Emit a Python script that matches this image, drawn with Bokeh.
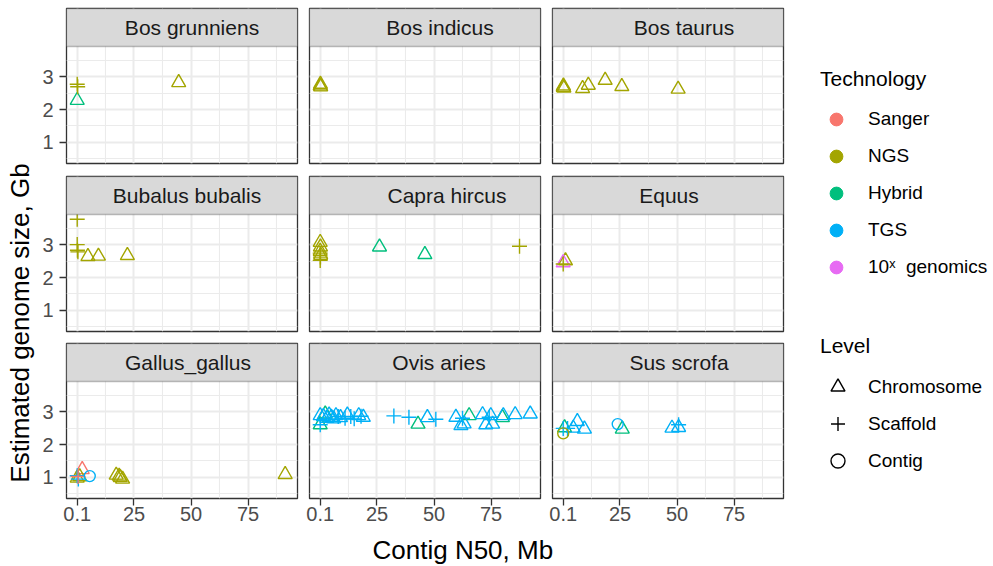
import numpy as np
from bokeh.plotting import figure
from bokeh.models import (ColumnDataSource, FixedTicker, Grid, BoxAnnotation, Label,
                          Legend, LegendItem)
from bokeh.layouts import row, column
from bokeh.transform import factor_cmap
from bokeh.embed import file_html
from bokeh.resources import INLINE

# ---------------- data ----------------
SPECIES = ["Bos grunniens", "Bos indicus", "Bos taurus",
           "Bubalus bubalis", "Capra hircus", "Equus",
           "Gallus_gallus", "Ovis aries", "Sus scrofa"]
TECHS = ["Sanger", "NGS", "Hybrid", "TGS", "10x"]
TECH_LABELS = ["Sanger", "NGS", "Hybrid", "TGS", "10\u02e3  genomics"]
TECH_COLORS = ["#F8766D", "#A3A500", "#00BF7D", "#00B0F6", "#E76BF3"]
LEVELS = ["Chromosome", "Scaffold", "Contig"]

X_TICKS = [0.1, 25, 50, 75]
X_TICK_LABELS = ["0.1", "25", "50", "75"]
X_MINOR = [12.55, 37.5, 62.5, 87.5]
Y_TICKS = [1, 2, 3]
Y_MINOR = [0.5, 1.5, 2.5, 3.5]
X_TITLE = "Contig N50, Mb"
Y_TITLE = "Estimated genome size, Gb"

# one entry per assembly: species, contig N50 (Mb), genome size (Gb), technology, level
SP = (["Bos grunniens"] * 4 + ["Bos indicus"] * 3 + ["Bos taurus"] * 8 +
      ["Bubalus bubalis"] * 7 + ["Capra hircus"] * 10 + ["Equus"] * 3 +
      ["Gallus_gallus"] * 12 + ["Ovis aries"] * 38 + ["Sus scrofa"] * 12)
N50 = [0.1, 0.3, 0.1, 44.6,
       0.1, 0.2, 0.3,
       0.1, 0.2, 0.4, 8.6, 11.1, 18.5, 25.8, 50.5,
       0.1, 0.1, 0.2, 0.4, 4.8, 9.4, 22.1,
       0.1, 0.2, 0.1, 0.3, 0.1, 0.2, 0.1, 26.1, 46.0, 87.5,
       1.1, 0.1, 0.1,
       2.3, 0.1, 0.6, 5.6, 0.1, 1.2, 0.5, 17.2, 18.5, 20.0, 19.0, 91.3,
       0.1, 2.3, 43.0, 65.4, 80.0,
       0.1, 8.0, 11.0, 13.5, 15.0, 18.0, 32.4, 39.0, 50.8, 62.5, 74.2,
       0.1, 1.5, 3.0, 4.0, 5.0, 6.0, 7.0, 9.0, 12.0, 17.0, 19.0, 47.1,
       59.6, 61.8, 63.2, 71.3, 72.7, 74.9, 75.7, 80.4, 85.6, 92.2,
       0.1, 0.1, 2.0, 0.7, 4.5, 6.3, 9.4, 47.8, 50.7, 24.0, 26.0, 50.7]
GSIZE = [2.77, 2.69, 2.28, 2.82,
         2.72, 2.77, 2.69,
         2.68, 2.72, 2.65, 2.64, 2.74, 2.89, 2.70, 2.62,
         3.77, 3.00, 2.83, 2.78, 2.64, 2.65, 2.67,
         3.07, 2.93, 2.80, 2.68, 2.74, 2.62, 2.52, 2.93, 2.70, 2.95,
         2.51, 2.45, 2.41,
         1.24, 1.05, 0.95, 1.04, 0.98, 1.02, 1.03, 1.07, 1.04, 0.95, 1.00, 1.09,
         2.60, 2.93, 2.62, 2.88, 2.82,
         2.60, 2.85, 2.80, 2.85, 2.78, 2.86, 2.87, 2.83, 2.77, 2.80, 2.83,
         2.88, 2.85, 2.80, 2.90, 2.83, 2.78, 2.88, 2.82, 2.90, 2.88, 2.83, 2.82,
         2.83, 2.58, 2.63, 2.91, 2.60, 2.88, 2.62, 2.88, 2.91, 2.93,
         2.34, 2.49, 2.49, 2.51, 2.50, 2.70, 2.47, 2.50, 2.52, 2.62, 2.47, 2.60]
TECH = (["NGS", "NGS", "Hybrid", "NGS"] +
        ["NGS"] * 3 +
        ["NGS"] * 8 +
        ["NGS"] * 7 +
        ["NGS"] * 7 + ["Hybrid", "Hybrid", "NGS"] +
        ["NGS", "10x", "NGS"] +
        ["Sanger", "TGS", "TGS", "TGS", "NGS", "NGS", "Sanger", "NGS", "NGS", "NGS", "NGS", "NGS"] +
        ["Hybrid"] * 5 + ["TGS"] * 11 + ["TGS"] * 22 +
        ["NGS", "TGS", "TGS", "Hybrid", "TGS", "TGS", "TGS", "TGS", "TGS", "TGS", "Hybrid", "TGS"])
LEVEL = (["Scaffold", "Scaffold", "Chromosome", "Chromosome"] +
         ["Chromosome"] * 3 +
         ["Chromosome"] * 8 +
         ["Scaffold"] * 4 + ["Chromosome"] * 3 +
         ["Chromosome"] * 4 + ["Scaffold"] * 3 + ["Chromosome", "Chromosome", "Scaffold"] +
         ["Chromosome", "Chromosome", "Scaffold"] +
         ["Chromosome", "Scaffold", "Scaffold", "Contig", "Chromosome", "Chromosome", "Scaffold",
          "Chromosome", "Chromosome", "Chromosome", "Chromosome", "Chromosome"] +
         ["Chromosome"] * 5 + ["Scaffold"] * 11 + ["Chromosome"] * 22 +
         ["Contig", "Scaffold", "Scaffold", "Chromosome", "Chromosome", "Chromosome", "Chromosome",
          "Chromosome", "Chromosome", "Contig", "Chromosome", "Scaffold"])

# ---------------- styling / layout ----------------
FONT = "Liberation Sans"
DARK = "#333333"
X_LO, X_HI = -4.6, 96.7
Y_LO, Y_HI = 0.36, 3.915
STRIP_PX, PANEL_PX, FRAME_W = 38, 117, 231
Y_TOP = Y_HI + (Y_HI - Y_LO) * STRIP_PX / PANEL_PX
STRIP_SHIFT = [10, 15, 16, 5, 22, 1, 6, 14, 11]
MARKER = {"Chromosome": ("triangle", 14), "Scaffold": ("cross", 15), "Contig": ("circle", 11)}
PAGE_H = 566
YT_W = 36             # width of the y-title strip
GRID_W = 753          # width of the 3x3 panel block
LEG_W = 993 - YT_W - GRID_W
ROW_TOP = [8, 7, 6]
ROW_BOTTOM = [6, 6, 33]
XT_H = PAGE_H - (8 + 155 + 6 + 7 + 155 + 6 + 6 + 155 + 33)


def bare(f):
    f.center = [m for m in f.center if not isinstance(m, Grid)]
    f.outline_line_color = None
    return f


def style_axis(ax, standoff):
    ax.axis_line_color = None
    ax.major_tick_line_color = DARK
    ax.major_tick_line_width = 1.3
    ax.major_tick_out = 7
    ax.major_tick_in = 0
    ax.minor_tick_line_color = None
    ax.major_label_text_font = FONT
    ax.major_label_text_font_size = "20px"
    ax.major_label_text_color = "#4D4D4D"
    ax.major_label_standoff = standoff


figs = []
for i, name in enumerate(SPECIES):
    r, c = divmod(i, 3)
    left, bottom = c == 0, r == 2
    p = figure(frame_width=FRAME_W, frame_height=STRIP_PX + PANEL_PX,
               x_range=(X_LO, X_HI), y_range=(Y_LO, Y_TOP),
               x_axis_location="below" if bottom else None,
               y_axis_location="left" if left else None,
               toolbar_location=None, output_backend="svg",
               min_border_left=30 if left else 6, min_border_right=6,
               min_border_top=ROW_TOP[r], min_border_bottom=ROW_BOTTOM[r],
               background_fill_color="white", border_fill_color="white")
    p.center = [m for m in p.center if not isinstance(m, Grid)]
    p.outline_line_color = DARK
    p.outline_line_width = 1.3
    p.add_layout(Grid(dimension=0, ticker=FixedTicker(ticks=X_TICKS, minor_ticks=X_MINOR),
                      grid_line_color="#EBEBEB", grid_line_width=2,
                      minor_grid_line_color="#EBEBEB", minor_grid_line_width=1.1), "center")
    p.add_layout(Grid(dimension=1, ticker=FixedTicker(ticks=Y_TICKS, minor_ticks=Y_MINOR),
                      grid_line_color="#EBEBEB", grid_line_width=2,
                      minor_grid_line_color="#EBEBEB", minor_grid_line_width=1.1), "center")

    for lvl in LEVELS:
        idx = [k for k in range(len(SP)) if SP[k] == name and LEVEL[k] == lvl]
        if not idx:
            continue
        src = ColumnDataSource(dict(x=[N50[k] for k in idx], y=[GSIZE[k] for k in idx],
                                    tech=[TECH[k] for k in idx]))
        mk, sz = MARKER[lvl]
        p.scatter("x", "y", source=src, marker=mk, size=sz, fill_color=None,
                  line_color=factor_cmap("tech", TECH_COLORS, TECHS), line_width=1.4)

    p.add_layout(BoxAnnotation(bottom=Y_HI, fill_color="#D9D9D9", fill_alpha=1.0,
                               line_color=DARK, line_width=1.3))
    p.add_layout(Label(x=(X_LO + X_HI) / 2, y=(Y_HI + Y_TOP) / 2, text=name,
                       text_align="center", text_baseline="middle", x_offset=STRIP_SHIFT[i],
                       text_font=FONT, text_font_size="21px", text_color="#1A1A1A"))

    if left:
        ax = p.yaxis[0]
        ax.ticker = FixedTicker(ticks=Y_TICKS)
        style_axis(ax, 6)
    if bottom:
        ax = p.xaxis[0]
        ax.ticker = FixedTicker(ticks=X_TICKS)
        ax.major_label_overrides = dict(zip(X_TICKS, X_TICK_LABELS))
        style_axis(ax, 1)
    figs.append(p)

# x-axis title strip (pixel coordinates)
xt = bare(figure(frame_width=GRID_W, frame_height=XT_H, x_range=(0, GRID_W), y_range=(0, XT_H),
                 x_axis_location=None, y_axis_location=None, toolbar_location=None,
                 output_backend="svg", min_border=0))
xt.add_layout(Label(x=372 - YT_W, y=17, text=X_TITLE, text_align="left",
                    text_baseline="alphabetic", text_font=FONT, text_font_size="26px",
                    text_color="black"))

# y-axis title: an empty axis whose label is centred on a frame spanning all panel rows
yt = bare(figure(frame_width=1, frame_height=511, x_range=(0, 1), y_range=(0, 1),
                 x_axis_location=None, y_axis_location="left", toolbar_location=None,
                 output_backend="svg", min_border_left=YT_W - 2, min_border_right=1,
                 min_border_top=0, min_border_bottom=PAGE_H - 511))
yax = yt.yaxis[0]
yax.ticker = FixedTicker(ticks=[])
yax.axis_line_color = None
yax.major_tick_line_color = None
yax.minor_tick_line_color = None
yax.major_tick_out = 0
yax.major_label_standoff = 0
yax.axis_label = Y_TITLE
yax.axis_label_standoff = 0
yax.axis_label_text_font = FONT
yax.axis_label_text_font_size = "26px"
yax.axis_label_text_font_style = "normal"
yax.axis_label_text_color = "black"

# legends
lf = bare(figure(frame_width=LEG_W - 31, frame_height=PAGE_H - 67 - 88, x_range=(0, 1), y_range=(0, 1),
                 x_axis_location=None, y_axis_location=None, toolbar_location=None,
                 output_backend="svg", min_border_left=31, min_border_top=67,
                 min_border_right=0, min_border_bottom=88))

LEG_STYLE = dict(margin=0, padding=0, border_line_color=None,
                 background_fill_alpha=0, label_text_font=FONT, label_text_font_size="19px",
                 label_text_color="black", title_text_font=FONT, title_text_font_size="21px",
                 title_text_font_style="normal", title_text_color="black")

items = []
for t, lab, col in zip(TECHS, TECH_LABELS, TECH_COLORS):
    rr = lf.scatter(x=[np.nan], y=[np.nan], marker="circle", size=12, fill_color=col, line_color=col)
    items.append(LegendItem(label=lab, renderers=[rr]))
lf.add_layout(Legend(items=items, title="Technology", location="top_left", glyph_width=32,
                     glyph_height=32, spacing=5, label_standoff=16, title_standoff=12,
                     **LEG_STYLE), "center")

items = []
for lvl in LEVELS:
    mk, sz = MARKER[lvl]
    rr = lf.scatter(x=[np.nan], y=[np.nan], marker=mk, size=sz, fill_color=None,
                    line_color="black", line_width=1.4)
    items.append(LegendItem(label=lvl, renderers=[rr]))
lf.add_layout(Legend(items=items, title="Level", location="bottom_left", glyph_width=35,
                     glyph_height=35, spacing=2, label_standoff=13, title_standoff=11,
                     **LEG_STYLE), "center")

grid = column(row(*figs[0:3]), row(*figs[3:6]), row(*figs[6:9]), xt)
layout = row(yt, grid, lf)

open("out.html", "w").write(file_html(layout, INLINE))
